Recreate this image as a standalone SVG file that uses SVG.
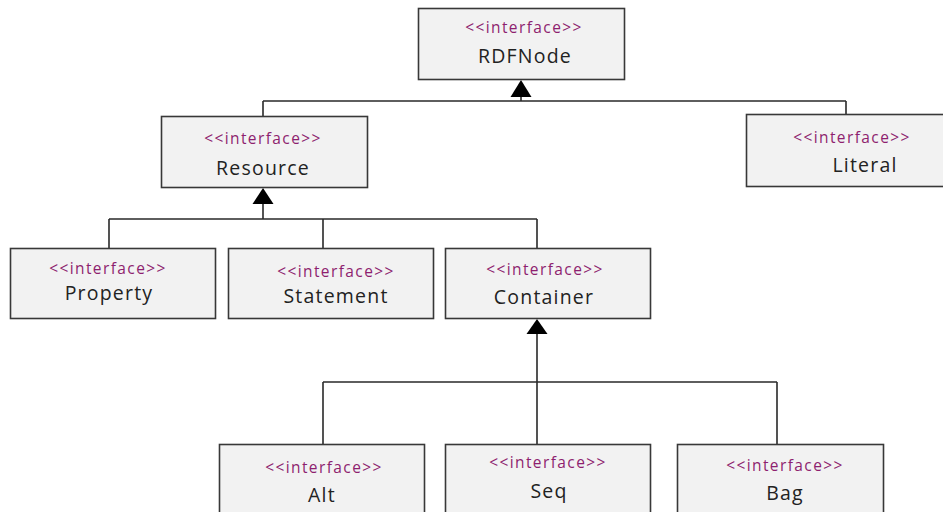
<svg xmlns="http://www.w3.org/2000/svg" width="943" height="512" viewBox="0 0 943 512">
<style>
.box{fill:#f2f2f2;stroke:#383838;stroke-width:1.6}
.st{font-family:"Open Sans","Liberation Sans",sans-serif;font-size:15.5px;fill:#8e1f6f;text-anchor:middle;letter-spacing:1.4px}
.nm{font-family:"Open Sans","Liberation Sans",sans-serif;font-size:19.5px;fill:#222;text-anchor:middle;letter-spacing:1.2px}
.ln{fill:none;stroke:#2a2a2a;stroke-width:1.6}
.ah{fill:#000}
</style>
<rect width="943" height="512" fill="#ffffff"/>
<g id="connectors">
<path class="ln" d="M521,96 V101 M263,101 H846 M263,101 V116 M846,101 V114"/>
<polygon class="ah" points="521,80 510.5,97 531.5,97"/>
<path class="ln" d="M263,202 V219 M109,219 H537 M109,219 V248 M323,219 V248 M537,219 V248"/>
<polygon class="ah" points="263,188 252.5,204 273.5,204"/>
<path class="ln" d="M537,332 V444 M323,382 H777 M323,382 V444 M777,382 V444"/>
<polygon class="ah" points="537,319 526.5,334 547.5,334"/>
</g>
<g id="RDFNode">
<rect class="box" x="418.5" y="8.5" width="206" height="71"/>
<text class="st" x="524" y="33">&lt;&lt;interface&gt;&gt;</text>
<text class="nm" x="525" y="63">RDFNode</text>
</g>
<g id="Resource">
<rect class="box" x="161.5" y="116.5" width="206" height="71"/>
<text class="st" x="263" y="144">&lt;&lt;interface&gt;&gt;</text>
<text class="nm" x="263" y="175">Resource</text>
</g>
<g id="Literal">
<rect class="box" x="746.5" y="114.5" width="198" height="72"/>
<text class="st" x="852" y="143">&lt;&lt;interface&gt;&gt;</text>
<text class="nm" x="865" y="172">Literal</text>
</g>
<g id="Property">
<rect class="box" x="10.5" y="248.5" width="205" height="70"/>
<text class="st" x="108" y="274">&lt;&lt;interface&gt;&gt;</text>
<text class="nm" x="109" y="300">Property</text>
</g>
<g id="Statement">
<rect class="box" x="228.5" y="248.5" width="205" height="70"/>
<text class="st" x="336" y="277">&lt;&lt;interface&gt;&gt;</text>
<text class="nm" x="336" y="303">Statement</text>
</g>
<g id="Container">
<rect class="box" x="445.5" y="248.5" width="205" height="70"/>
<text class="st" x="545" y="275">&lt;&lt;interface&gt;&gt;</text>
<text class="nm" x="544" y="304">Container</text>
</g>
<g id="Alt">
<rect class="box" x="219.5" y="444.5" width="205" height="80"/>
<text class="st" x="324" y="473">&lt;&lt;interface&gt;&gt;</text>
<text class="nm" x="322" y="502">Alt</text>
</g>
<g id="Seq">
<rect class="box" x="445.5" y="444.5" width="205" height="80"/>
<text class="st" x="548" y="468">&lt;&lt;interface&gt;&gt;</text>
<text class="nm" x="549" y="498">Seq</text>
</g>
<g id="Bag">
<rect class="box" x="677.5" y="444.5" width="206" height="80"/>
<text class="st" x="785" y="471">&lt;&lt;interface&gt;&gt;</text>
<text class="nm" x="785" y="500">Bag</text>
</g>
</svg>
